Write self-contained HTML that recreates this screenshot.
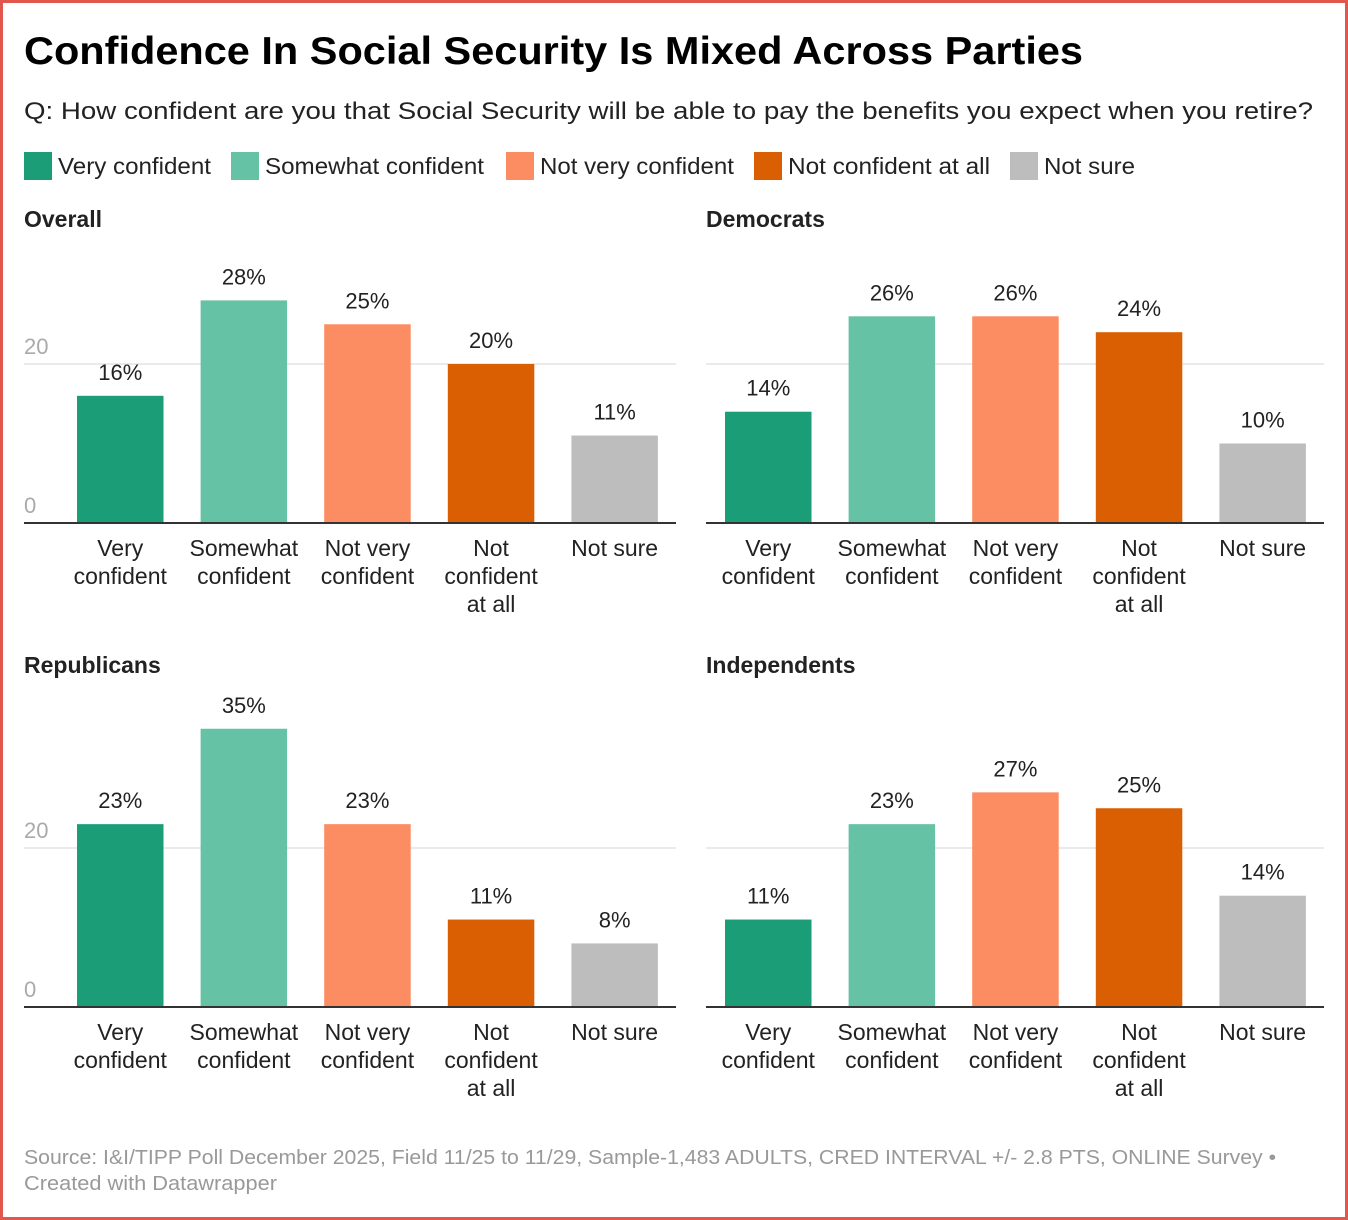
<!DOCTYPE html>
<html><head><meta charset="utf-8">
<style>
html,body{margin:0;padding:0;background:#fff;}
body{width:1348px;height:1220px;overflow:hidden;font-family:"Liberation Sans",sans-serif;}
#frame{position:absolute;left:0;top:0;width:1342px;height:1214px;border:3px solid #e2574c;}
svg{position:absolute;left:0;top:0;}
</style></head>
<body>
<div id="frame"></div>
<svg id="chart" width="1348" height="1220"></svg>
<script>
const categories = ["Very confident","Somewhat confident","Not very confident","Not confident at all","Not sure"];
const catLines = [["Very","confident"],["Somewhat","confident"],["Not very","confident"],["Not","confident","at all"],["Not sure"]];
const colors = ["#1b9e77","#66c2a5","#fc8d62","#d95f02","#bdbdbd"];
const panelTitles = ["Overall","Democrats","Republicans","Independents"];
const overall = [16,28,25,20,11];
const democrats = [14,26,26,24,10];
const republicans = [23,35,23,11,8];
const independents = [11,23,27,25,14];
const yTicks = [0,20];

const NS="http://www.w3.org/2000/svg";
const svg=document.getElementById('chart');
function mk(tag,attrs,parent){const e=document.createElementNS(NS,tag);for(const k in attrs)e.setAttribute(k,attrs[k]);(parent||svg).appendChild(e);return e;}
function txt(s,attrs,parent){const e=mk('text',attrs,parent);e.textContent=s;return e;}

let t=txt("Confidence In Social Security Is Mixed Across Parties",{x:24,y:64,'font-size':39,'font-weight':'bold',fill:'#000',textLength:1059,lengthAdjust:'spacingAndGlyphs'});

t=txt("Q: How confident are you that Social Security will be able to pay the benefits you expect when you retire?",{x:24,y:119,'font-size':24,fill:'#222',textLength:1289,lengthAdjust:'spacingAndGlyphs'});


const legX=[24,231,506,754,1010];
const legW=[153,219,194,202,91];
categories.forEach((c,i)=>{
  const g=mk('g',{});
  
  
  mk('rect',{x:legX[i],y:152,width:28,height:28,fill:colors[i]},g);
  txt(c,{x:legX[i]+34,y:174,'font-size':23,fill:'#222',textLength:legW[i],lengthAdjust:'spacingAndGlyphs'},g);
});

const panels=[
 {data:overall,x0:24,x1:676,firstBar:77,base:523,axis:true,title:[24,227]},
 {data:democrats,x0:706,x1:1324,firstBar:725,base:523,axis:false,title:[706,227]},
 {data:republicans,x0:24,x1:676,firstBar:77,base:1007,axis:true,title:[24,673]},
 {data:independents,x0:706,x1:1324,firstBar:725,base:1007,axis:false,title:[706,673]}
];
const pxPerUnit=7.95, step=123.6, barW=86.5;
panels.forEach((p,pi)=>{
  const g=mk('g',{});
  
  
  const y=v=>p.base-v*pxPerUnit;
  let tt=txt(panelTitles[pi],{x:p.title[0],y:p.title[1],'font-size':23,'font-weight':'bold',fill:'#222'},g);
  
  yTicks.forEach(v=>{
    if(v>0){const l=mk('line',{x1:p.x0,x2:p.x1,y1:y(v),y2:y(v),stroke:'#e3e3e3','stroke-width':1.5},g);
      }
    if(p.axis){const l=txt(String(v),{x:24,y:y(v)-10,'font-size':22,fill:'#aaa'},g);
      }
  });
  p.data.forEach((v,i)=>{
    const bx=p.firstBar+i*step;
    const r=mk('rect',{x:bx,y:y(v),width:barW,height:v*pxPerUnit,fill:colors[i]},g);
    
    const vl=txt(v+'%',{x:bx+barW/2,y:y(v)-16,'font-size':22,fill:'#222','text-anchor':'middle'},g);
    
    const cl=mk('text',{x:bx+barW/2,'font-size':23,fill:'#222','text-anchor':'middle'},g);
    
    catLines[i].forEach((ln,li)=>{const ts=mk('tspan',{x:bx+barW/2,y:p.base+33+li*28},cl);ts.textContent=ln;});
  });
  const b=mk('line',{x1:p.x0,x2:p.x1,y1:p.base,y2:p.base,stroke:'#333','stroke-width':2},g);
  
});

t=txt("Source: I&I/TIPP Poll December 2025, Field 11/25 to 11/29, Sample-1,483 ADULTS, CRED INTERVAL +/- 2.8 PTS, ONLINE Survey •",{x:24,y:1164,'font-size':20,fill:'#999',textLength:1252,lengthAdjust:'spacingAndGlyphs'});

t=txt("Created with Datawrapper",{x:24,y:1190,'font-size':20,fill:'#999',textLength:253,lengthAdjust:'spacingAndGlyphs'});

</script>
</body></html>
